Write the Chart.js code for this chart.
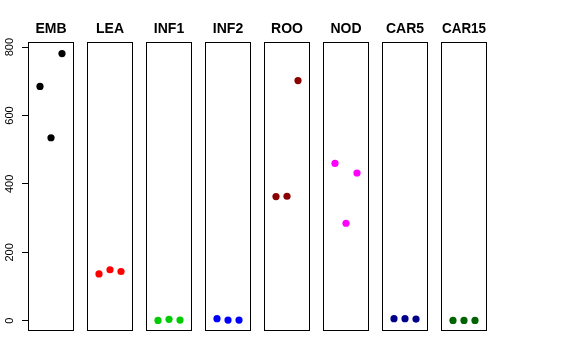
<!DOCTYPE html>
<html>
<head>
<meta charset="utf-8">
<script src="https://cdn.jsdelivr.net/npm/chart.js@4/dist/chart.umd.min.js"></script>
<style>
  html, body { margin: 0; padding: 0; background: #fff; }
  #wrap { position: relative; width: 576px; height: 360px; overflow: hidden; }
  canvas { position: absolute; top: 0; }
</style>
</head>
<body>
<div id="wrap"></div>
<script>
const categories = ['EMB', 'LEA', 'INF1', 'INF2', 'ROO', 'NOD', 'CAR5', 'CAR15'];
const EMB   = [685, 535, 781];
const LEA   = [137, 149, 144];
const INF1  = [1, 4, 2];
const INF2  = [6, 2, 2];
const ROO   = [363, 364, 702];
const NOD   = [460, 285, 432];
const CAR5  = [6, 6, 5];
const CAR15 = [1, 1, 1];
const seriesValues = [EMB, LEA, INF1, INF2, ROO, NOD, CAR5, CAR15];
const replicates = [1, 2, 3];
const yTicks = [0, 200, 400, 600, 800];
const colors = ['#000000', '#FF0000', '#00CD00', '#0000FF', '#8B0000', '#FF00FF', '#00008B', '#006400'];

const FONT = "'Liberation Sans', Arial, Helvetica, sans-serif";
const panelLeft0 = 29, panelStep = 59, panelW = 44, sidePad = 8;
const yAxisW = 29;

const boxPlugin = {
  id: 'box',
  afterDraw(chart) {
    const a = chart.chartArea, ctx = chart.ctx;
    ctx.save();
    ctx.strokeStyle = '#000';
    ctx.lineWidth = 1;
    ctx.strokeRect(Math.round(a.left) - 0.5, Math.round(a.top) - 0.5,
                   Math.round(a.right - a.left) + 1, Math.round(a.bottom - a.top));
    ctx.restore();
  }
};

const wrap = document.getElementById('wrap');
categories.forEach((cat, i) => {
  const first = i === 0;
  const pl = panelLeft0 + panelStep * i;
  const cv = document.createElement('canvas');
  const left = first ? 0 : pl - sidePad;
  const width = first ? pl + panelW + sidePad : panelW + 2 * sidePad;
  cv.width = width; cv.height = 360;
  cv.style.left = left + 'px';
  cv.style.width = width + 'px'; cv.style.height = '360px';
  wrap.appendChild(cv);

  new Chart(cv, {
    type: 'scatter',
    data: {
      datasets: [{
        data: seriesValues[i].map((v, k) => ({ x: replicates[k], y: v })),
        backgroundColor: colors[i],
        borderWidth: 0,
        pointRadius: 3.6,
        pointHoverRadius: 3.6
      }]
    },
    options: {
      responsive: false,
      animation: false,
      devicePixelRatio: 1,
      layout: { padding: { left: first ? 0 : sidePad, right: sidePad, top: 0, bottom: 29 } },
      plugins: {
        legend: { display: false },
        tooltip: { enabled: false },
        title: {
          display: true,
          text: cat,
          fullSize: false,
          color: '#000',
          font: { family: FONT, size: 14, weight: 'bold', lineHeight: '16px' },
          padding: { top: 21, bottom: 6 }
        }
      },
      scales: {
        x: { type: 'linear', min: 0, max: 4, display: false },
        y: {
          type: 'linear', min: -30, max: 812,
          display: first,
          afterBuildTicks: (s) => { s.ticks = yTicks.map(v => ({ value: v })); },
          afterFit: (s) => { s.width = first ? yAxisW : 0; },
          border: { display: false },
          grid: { drawOnChartArea: false, drawTicks: true, tickLength: 7, color: '#000', lineWidth: 1 },
          ticks: {
            color: '#000',
            font: { family: FONT, size: 11 },
            minRotation: 90, maxRotation: 90,
            crossAlign: 'center',
            padding: 3
          }
        }
      }
    },
    plugins: [boxPlugin]
  });
});
</script>
</body>
</html>
